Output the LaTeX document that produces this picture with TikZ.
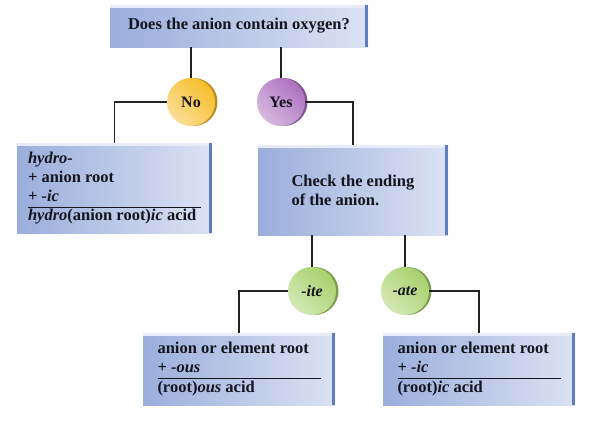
\documentclass[tikz,border=0pt]{standalone}
\usepackage{fontspec}
\setmainfont{Liberation Serif}
\definecolor{boxdark}{HTML}{9AAEDC}
\definecolor{boxlight}{HTML}{DCE2F3}
\definecolor{boxedge}{HTML}{5F7DC2}
\definecolor{boxtop}{HTML}{E8ECF8}
\definecolor{inkdark}{HTML}{15151F}
\definecolor{inkline}{HTML}{222222}
\definecolor{dYellow}{HTML}{F7BE2C}
\definecolor{dPurple}{HTML}{AE72C0}
\definecolor{dGreen}{HTML}{A8D16C}
\usetikzlibrary{positioning,shadows}

\begin{document}
\begin{tikzpicture}[x=1pt, y=-1pt,
  panel/.style={rectangle, left color=boxdark, right color=boxlight, text=inkdark,
                font=\bfseries\fontsize{16.5}{19}\selectfont, align=left, inner sep=0pt,
                path picture={
                  \fill[boxtop] (path picture bounding box.north west) rectangle
                                ([yshift=-3pt]path picture bounding box.north east);
                  \fill[boxedge] ([xshift=-3pt]path picture bounding box.north east) rectangle
                                 (path picture bounding box.south east);}},
  disc/.style={circle, minimum size=48pt, inner sep=0pt, text=inkdark,
               font=\bfseries\fontsize{16}{18}\selectfont,
               top color=#1, bottom color=#1!50!white, shading angle=-45,
               general shadow={fill=#1!75!black, shadow xshift=2.5pt, shadow yshift=0pt}},
  link/.style={line width=1.6pt, inkline}
]
\useasboundingbox (0,0) rectangle (592,421);
% question and first answers
\node[panel, minimum width=258pt, minimum height=42pt] (oxygen) at (239,26) {Does the anion contain oxygen?};
\node[disc=dYellow] (no)  at (191,102) {No};
\node[disc=dPurple] (yes) at (281,102) {Yes};
\node[panel, minimum width=195pt, minimum height=90pt] (hydro) at (114.5,188)
  {\begin{tabular}{@{}p{173pt}@{}}\textit{hydro-}\\+ anion root\\+ \textit{-ic}\\\hline
   \textit{hydro}(anion root)\textit{ic} acid\end{tabular}};
\node[panel, minimum width=190pt, minimum height=90pt] (ending) at (353,190)
  {Check the ending\\of the anion.};
% endings
\node[disc=dGreen] (ite) at (312,291) {\textit{-ite}};
\node[disc=dGreen] (ate) at (405,291) {\textit{-ate}};
\node[panel, minimum width=192pt, minimum height=72pt] (ous) at (239,369)
  {\begin{tabular}{@{}p{163pt}@{}}anion or element root\\+ \textit{-ous}\\\hline
   (root)\textit{ous} acid\end{tabular}};
\node[panel, minimum width=192pt, minimum height=72pt] (ic) at (479,369)
  {\begin{tabular}{@{}p{163pt}@{}}anion or element root\\+ \textit{-ic}\\\hline
   (root)\textit{ic} acid\end{tabular}};
% connectors
\draw[link] (oxygen.south -| no) -- (no);
\draw[link] (oxygen.south -| yes) -- (yes);
\draw[link] (no.west) -| (hydro.north);
\draw[link] (yes.east) -| (ending.north);
\draw[link] (ending.south -| ite) -- (ite);
\draw[link] (ending.south -| ate) -- (ate);
\draw[link] (ite.west) -| (ous.north);
\draw[link] (ate.east) -| (ic.north);
\end{tikzpicture}
\end{document}
